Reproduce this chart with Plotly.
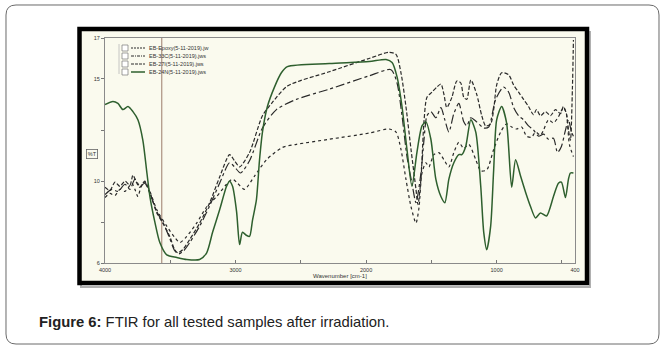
import plotly.graph_objects as go

# ---------------- data ----------------
series_names = ["EB-Epoxy(5-11-2019).jw", "EB-33C(5-11-2019).jws",
                "EB-27I(5-11-2019).jws", "EB-24N(5-11-2019).jws"]

epoxy_wn = [4000, 3962, 3924, 3885, 3847, 3794, 3771, 3748, 3725, 3695, 3656, 3603, 3527, 3466, 3427,
            3374, 3298, 3221, 3145, 3069, 3023, 2985, 2931, 2855, 2763, 2641, 2534, 2282, 1977, 1824,
            1771, 1733, 1695, 1656, 1618, 1595, 1572, 1542, 1519, 1481, 1443, 1404, 1366, 1328, 1290,
            1252, 1214, 1160, 1122, 1076, 1023, 970, 924, 885, 847, 809, 771, 733, 702, 664, 641, 603,
            565, 527, 489, 466, 443, 412]
epoxy_t = [9.2, 9.4, 9.3, 9.6, 9.5, 9.9, 9.6, 9.25, 9.7, 9.95, 9.5, 8.6, 7.8, 7.25, 7.0,
           7.3, 7.95, 8.75, 9.25, 9.85, 10.1, 9.9, 9.6, 10.25, 11.05, 11.65, 11.8, 12.05, 12.35, 12.55,
           12.4, 11.55, 10.1, 8.75, 7.95, 8.7, 10.4, 10.9, 10.7, 11.3, 11.4, 11.05, 10.7, 11.4, 11.9,
           11.6, 11.8, 11.05, 10.5, 10.55, 11.55, 12.4, 12.8, 12.65, 12.55, 12.65, 12.2, 12.15, 12.4, 12.25, 12.5, 13.0,
           12.85, 13.15, 13.6, 13.3, 11.8, 11.2]

c33_wn = [4000, 3947, 3901, 3847, 3809, 3771, 3733, 3695, 3656, 3603, 3557, 3504, 3466, 3435, 3397,
          3351, 3275, 3198, 3122, 3046, 3008, 2962, 2893, 2794, 2687, 2534, 2282, 1977, 1809, 1763,
          1725, 1687, 1649, 1618, 1580, 1557, 1534, 1504, 1466, 1427, 1397, 1366, 1328, 1290, 1252,
          1229, 1198, 1153, 1099, 1061, 1008, 947, 908, 870, 832, 794, 756, 718, 679, 641, 603, 565,
          534, 504, 473, 450, 427, 412]
c33_t = [9.35, 9.6, 9.5, 9.85, 9.6, 10.1, 9.75, 9.9, 9.4, 8.5, 8.0, 7.2, 6.6, 6.45, 6.6,
         7.0, 7.8, 8.8, 9.9, 10.9, 10.7, 10.4, 11.0, 12.6, 13.5, 14.0, 14.5, 15.15, 15.45, 14.8,
         13.2, 11.2, 9.9, 8.95, 10.4, 12.0, 13.2, 13.4, 13.1, 13.6, 13.0, 12.4, 13.3, 13.8, 12.9,
         12.7, 13.1, 12.9, 12.6, 12.65, 14.0, 14.6, 14.35, 13.6, 13.2, 13.0, 12.7, 12.5, 12.2, 12.3, 12.05, 12.1,
         11.4, 11.7, 12.5, 13.0, 12.4, 12.2]

i27_wn = [4000, 3962, 3924, 3885, 3847, 3809, 3786, 3756, 3733, 3695, 3656, 3603, 3557, 3504, 3466,
          3443, 3405, 3351, 3275, 3198, 3122, 3046, 3008, 2969, 2893, 2794, 2718, 2603, 2282, 1977,
          1824, 1771, 1733, 1695, 1656, 1618, 1603, 1580, 1557, 1534, 1496, 1458, 1427, 1404, 1382,
          1343, 1305, 1275, 1252, 1229, 1198, 1153, 1114, 1084, 1046, 1023, 1000, 962, 908, 870,
          832, 794, 756, 718, 695, 664, 626, 588, 550, 511, 489, 466, 450, 435, 420, 412]
i27_t = [9.7, 9.55, 9.95, 9.75, 10.0, 9.8, 10.3, 9.9, 9.7, 10.0, 9.45, 8.45, 7.95, 7.3, 6.65,
         6.5, 6.65, 7.15, 7.95, 8.95, 10.2, 11.3, 11.0, 10.7, 11.4, 13.2, 13.85, 14.65, 15.35, 16.0,
         16.3, 16.2, 15.3, 13.65, 11.55, 9.6, 8.85, 10.1, 12.9, 14.1, 14.35, 14.6, 14.75, 14.25, 13.6,
         14.1, 14.9, 14.8, 14.1, 14.0, 14.95, 14.25, 13.2, 12.7, 12.8, 13.5, 14.7, 15.3, 15.2, 14.7,
         14.35, 14.0, 13.65, 13.25, 13.5, 13.2, 13.4, 13.2, 13.5, 13.3, 13.65, 13.3, 12.5, 12.0, 14.5, 16.9]

n24_wn = [4000, 3939, 3901, 3863, 3824, 3786, 3748, 3710, 3679, 3656, 3618, 3580, 3527, 3450, 3374,
          3275, 3221, 3176, 3122, 3069, 3046, 3023, 2992, 2969, 2947, 2916, 2893, 2870, 2840, 2817,
          2794, 2756, 2702, 2649, 2603, 2282, 1977, 1847, 1801, 1763, 1725, 1687, 1649, 1611, 1572,
          1542, 1504, 1466, 1427, 1397, 1366, 1328, 1290, 1267, 1237, 1198, 1160, 1122, 1099, 1076,
          1046, 1023, 1000, 962, 924, 885, 855, 817, 778, 740, 702, 664, 618, 565, 527, 504, 473,
          450, 435, 412]
n24_t = [13.75, 13.9, 13.8, 13.5, 13.65, 13.4, 13.0, 12.0, 10.4, 9.25, 8.0, 7.0, 6.4, 6.27, 6.17,
         6.17, 6.5, 7.5, 8.6, 9.75, 10.0, 9.75, 8.5, 6.9, 7.5, 7.35, 7.3, 8.1, 9.1, 11.0,
         12.4, 13.65, 14.6, 15.3, 15.6, 15.75, 15.85, 15.95, 15.8, 15.1, 13.65, 11.55, 9.75, 11.4, 12.7,
         12.9, 12.05, 10.1, 9.25, 8.95, 10.1, 10.9, 11.3, 11.3, 11.7, 13.0, 12.4, 9.75, 7.5, 6.65,
         7.8, 10.55, 13.0, 13.65, 12.85, 9.7, 11.05, 10.25, 9.45, 8.75, 8.2, 8.45, 8.3, 9.25, 9.9, 9.95, 9.2,
         10.1, 10.4, 10.4]

x_tick_vals = [4000, 3500, 3000, 2500, 2000, 1500, 1000, 500, 400]
x_tick_text = ["4000", "", "3000", "", "2000", "", "1000", "", "400"]
y_tick_vals = [6, 8, 10, 12.5, 15, 17]
y_tick_text = ["6", "", "10", "", "15", "17"]
cursor_wn = 3565

# ---------------- styling ----------------
FW, FH = 665, 348
ML, MR, MT, MB = 105, 90, 38, 85
PW, PH = FW - ML - MR, FH - MT - MB


def px(x):
    return (x - ML) / PW


def py(y):
    return (FH - MB - y) / PH


dark = "#2a2a2a"
green = "#2e5f2e"
styles = [
    dict(color=dark, width=1.2, dash="dot"),
    dict(color=dark, width=1.2, dash="dashdot"),
    dict(color=dark, width=1.2, dash="4px,2px"),
    dict(color=green, width=1.5, dash="solid"),
]

fig = go.Figure()
for name, wn, t, st in zip(series_names,
                           [epoxy_wn, c33_wn, i27_wn, n24_wn],
                           [epoxy_t, c33_t, i27_t, n24_t], styles):
    fig.add_trace(go.Scatter(x=wn, y=t, mode="lines", name=name,
                             line=dict(color=st["color"], width=st["width"], dash=st["dash"],
                                       shape="spline", smoothing=0.7),
                             showlegend=False, hoverinfo="skip"))

shapes = []
# outer rounded card
x0, x1, y0, y1, r = 6, 659, 5, 344, 10
pts = [("M", x0 + r, y0), ("L", x1 - r, y0), ("Q", x1, y0, x1, y0 + r), ("L", x1, y1 - r),
       ("Q", x1, y1, x1 - r, y1), ("L", x0 + r, y1), ("Q", x0, y1, x0, y1 - r), ("L", x0, y0 + r),
       ("Q", x0, y0, x0 + r, y0)]
path = ""
for p in pts:
    cmd = p[0]
    coords = p[1:]
    s = []
    for i in range(0, len(coords), 2):
        s.append(f"{px(coords[i]):.5f},{py(coords[i + 1]):.5f}")
    path += cmd + " ".join(s) + " "
path += "Z"
shapes.append(dict(type="path", xref="paper", yref="paper", path=path,
                   line=dict(color="#6a6a6a", width=1), fillcolor="rgba(0,0,0,0)", layer="below"))
# shadow, cream panel, black frame
shapes.append(dict(type="rect", xref="paper", yref="paper", x0=px(81), x1=px(590), y0=py(32), y1=py(287),
                   line=dict(color="#b0b0b0", width=2), fillcolor="rgba(0,0,0,0)", layer="below"))
shapes.append(dict(type="rect", xref="paper", yref="paper", x0=px(79.5), x1=px(587), y0=py(29), y1=py(283),
                   line=dict(width=0), fillcolor="#fafaee", layer="below"))
shapes.append(dict(type="rect", xref="paper", yref="paper", x0=px(79.5), x1=px(587), y0=py(29), y1=py(283),
                   line=dict(color="#000000", width=4.5), fillcolor="rgba(0,0,0,0)", layer="above"))
# cursor line
shapes.append(dict(type="line", xref="x", yref="paper", x0=cursor_wn, x1=cursor_wn, y0=0, y1=1,
                   line=dict(color="#9b7b6b", width=1), layer="below"))

annotations = []
# legend (drawn as a key box)
rows_y = [48, 56, 64, 72]
shapes.append(dict(type="line", xref="paper", yref="paper", x0=px(119), x1=px(119), y0=py(44), y1=py(74),
                   line=dict(color="#b8b8b8", width=0.8)))
for name, st, yy in zip(series_names, styles, rows_y):
    shapes.append(dict(type="rect", xref="paper", yref="paper", x0=px(122), x1=px(128), y0=py(yy - 3),
                       y1=py(yy + 3), line=dict(color="#777777", width=0.7), fillcolor="#ffffff"))
    shapes.append(dict(type="line", xref="paper", yref="paper", x0=px(131), x1=px(145), y0=py(yy), y1=py(yy),
                       line=dict(color=st["color"], width=st["width"],
                                 dash=("2px,1px" if st["dash"] == "dot" else
                                       ("3px,1px,1px,1px" if st["dash"] == "dashdot" else
                                        ("3px,1px" if st["dash"] != "solid" else "solid"))))))
    annotations.append(dict(xref="paper", yref="paper", x=px(147), y=py(yy), text=name, showarrow=False,
                            xanchor="left", yanchor="middle",
                            font=dict(family="Liberation Sans, Arial", size=5.5, color="#333333")))

annotations.append(dict(xref="paper", yref="paper", x=px(92), y=py(154), text="%T", showarrow=False,
                        xanchor="center", yanchor="middle", bordercolor="#666666", borderwidth=0.8, borderpad=1,
                        font=dict(family="Liberation Sans, Arial", size=5.5, color="#333333")))
annotations.append(dict(xref="paper", yref="paper", x=px(340), y=py(276), text="Wavenumber [cm-1]",
                        showarrow=False, xanchor="center", yanchor="middle",
                        font=dict(family="Liberation Sans, Arial", size=6, color="#333333")))
annotations.append(dict(xref="paper", yref="paper", x=px(37), y=py(322),
                        text="<b>Figure 6:</b> FTIR for all tested samples after irradiation.",
                        showarrow=False, xanchor="left", yanchor="middle",
                        font=dict(family="Liberation Sans, Arial", size=14.8, color="#222222")))

axis_common = dict(showgrid=False, zeroline=False, showline=True, mirror=True, linecolor="#8a8a8a",
                   linewidth=1, tickcolor="#777777", ticklen=3, tickwidth=1,
                   tickfont=dict(family="Liberation Sans, Arial", size=5.5, color="#333333"))

fig.update_layout(
    width=FW, height=FH, margin=dict(l=ML, r=MR, t=MT, b=MB, autoexpand=False),
    paper_bgcolor="#ffffff", plot_bgcolor="rgba(0,0,0,0)",
    xaxis=dict(range=[4000, 400], autorange=False, tickmode="array", tickvals=x_tick_vals,
               ticktext=x_tick_text, ticks="inside", ticklabelstandoff=1, **axis_common),
    yaxis=dict(range=[6, 17], autorange=False, tickmode="array", tickvals=y_tick_vals,
               ticktext=y_tick_text, ticks="outside", **axis_common),
    shapes=shapes, annotations=annotations, showlegend=False,
)

fig.write_html("out.html")
